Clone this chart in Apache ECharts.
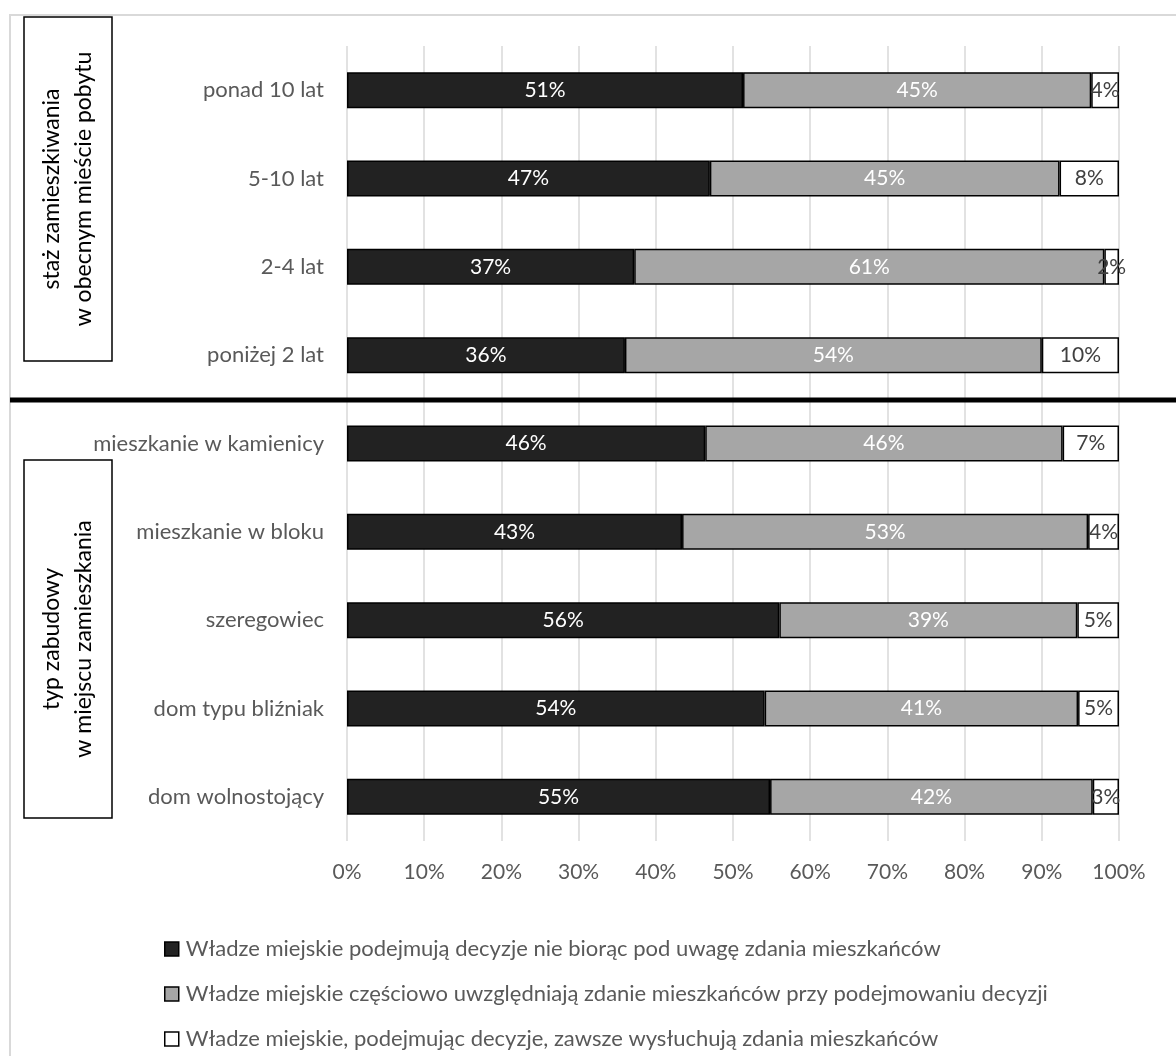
<!DOCTYPE html>
<html>
<head>
<meta charset="utf-8">
<script src="https://cdn.jsdelivr.net/npm/echarts@6/dist/echarts.min.js"></script>
<style>
html,body{margin:0;padding:0;background:#fff;}
#chart{width:1176px;height:1056px;}
</style>
</head>
<body>
<div id="chart"></div>
<script>
var categories = ['ponad 10 lat','5-10 lat','2-4 lat','poniżej 2 lat','mieszkanie w kamienicy','mieszkanie w bloku','szeregowiec','dom typu bliźniak','dom wolnostojący'];
var seriesNames = [
  'Władze miejskie podejmują decyzje nie biorąc pod uwagę zdania mieszkańców',
  'Władze miejskie częściowo uwzględniają zdanie mieszkańców przy podejmowaniu decyzji',
  'Władze miejskie, podejmując decyzje, zawsze wysłuchują zdania mieszkańców'
];
var ignoreValues  = [51.3, 47.0, 37.2, 36.0, 46.4, 43.4, 56.0, 54.1, 54.8];
var partlyValues  = [45.1, 45.3, 60.9, 54.0, 46.3, 52.6, 38.6, 40.6, 41.8];
var alwaysValues  = [3.6, 7.7, 1.9, 10.0, 7.3, 4.0, 5.4, 5.3, 3.4];
var xTicks = [0,10,20,30,40,50,60,70,80,90,100];
var groupLabels = [
  ['staż zamieszkiwania','w obecnym mieście pobytu'],
  ['typ zabudowy','w miejscu zamieszkania']
];

var FONT = 'Lato';
var colors = ['#222222','#a6a6a6','#ffffff'];
var labelColors = ['#ffffff','#ffffff','#404040'];
var allValues = [ignoreValues, partlyValues, alwaysValues];

var chart = echarts.init(document.getElementById('chart'));

var series = allValues.map(function(vals, i){
  return {
    name: seriesNames[i],
    type: 'bar',
    stack: 'total',
    barWidth: 36,
    data: vals,
    itemStyle: {color: colors[i], borderColor: '#000', borderWidth: 1.5},
    label: {
      show: true,
      position: 'inside',
      color: labelColors[i],
      fontFamily: FONT,
      fontSize: 21,
      formatter: function(p){ return Math.round(p.value) + '%'; }
    },
    emphasis: {disabled: true}
  };
});

function boxGroup(x, y, w, h, lines){
  var cx = x + w/2, cy = y + h/2;
  return {
    type: 'group',
    children: [
      {type:'rect', shape:{x:x, y:y, width:w, height:h}, style:{fill:'#fff', stroke:'#000', lineWidth:1.5}, z: 10},
      {type:'text', x: cx - 16, y: cy, rotation: Math.PI/2, z: 11,
        style:{text: lines[0], fill:'#000', font: '23px ' + FONT, align:'center', verticalAlign:'middle'}},
      {type:'text', x: cx + 16, y: cy, rotation: Math.PI/2, z: 11,
        style:{text: lines[1], fill:'#000', font: '23px ' + FONT, align:'center', verticalAlign:'middle'}}
    ]
  };
}

chart.setOption({
  animation: false,
  textStyle: {fontFamily: FONT},
  grid: {left: 347, right: 57, top: 46, bottom: 215, containLabel: false},
  xAxis: {
    type: 'value', min: 0, max: 100, interval: 10,
    axisLine: {show: false}, axisTick: {show: false},
    splitLine: {lineStyle: {color: '#d9d9d9', width: 1.5}},
    axisLabel: {formatter: '{value}%', color: '#595959', fontSize: 21, fontFamily: FONT, margin: 21}
  },
  yAxis: {
    type: 'category', data: categories, inverse: true,
    axisLine: {show: false}, axisTick: {show: false},
    axisLabel: {color: '#595959', fontSize: 22, fontFamily: FONT, margin: 23}
  },
  legend: {
    orient: 'vertical', left: 159, top: 933,
    itemWidth: 14, itemHeight: 14, itemGap: 23,
    icon: 'rect',
    selectedMode: false,
    textStyle: {color: '#595959', fontSize: 22, fontFamily: FONT, lineHeight: 22, padding: [0,0,0,2]},
    data: seriesNames.map(function(n, i){
      return {name: n, itemStyle: {color: colors[i], borderColor: '#000', borderWidth: 1.5}};
    })
  },
  graphic: [
    {type:'rect', shape:{x:10, y:15, width:1200, height:1100}, style:{fill:'none', stroke:'#d9d9d9', lineWidth:2}, z: 0},
    {type:'line', shape:{x1:10, y1:400, x2:1176, y2:400}, style:{stroke:'#000', lineWidth:5}, z: 20},
    boxGroup(24, 17, 88, 344, groupLabels[0]),
    boxGroup(24, 460, 88, 358, groupLabels[1])
  ],
  series: series
});
</script>
</body>
</html>
